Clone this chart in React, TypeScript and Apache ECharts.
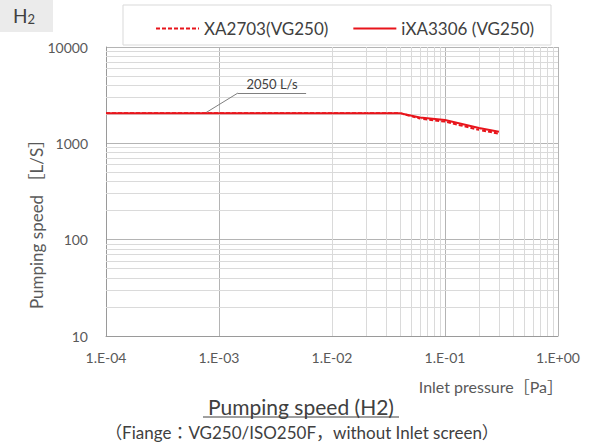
import React, { useEffect, useRef } from "react";
import * as echarts from "echarts";

// ---- data ----
const xTickLabels = ["1.E-04", "1.E-03", "1.E-02", "1.E-01", "1.E+00"];
const yTickLabels = ["10", "100", "1000", "10000"];
const seriesNames = ["XA2703(VG250)", "iXA3306 (VG250)"];
const pressureXA2703 = [1e-4, 0.04, 0.06, 0.1, 0.2, 0.3];
const speedXA2703 = [2050, 2050, 1810, 1680, 1380, 1260];
const pressureIXA3306 = [1e-4, 0.04, 0.06, 0.1, 0.2, 0.3];
const speedIXA3306 = [2050, 2050, 1850, 1745, 1440, 1320];
const minorMultipliers = [2, 3, 4, 5, 6, 7, 8, 9];
const xDecades = [1e-4, 1e-3, 1e-2, 1e-1];
const yDecades = [10, 100, 1000];
const annotationText = "2050 L/s";
const annotationPoints = [
  [7.5e-4, 2050],
  [1.47e-3, 3330],
  [5.9e-3, 3330],
];
const titleText = "Pumping speed (H2)";
const subtitleText = "（Fiange：VG250/ISO250F，without Inlet screen）";
const xAxisName = "Inlet pressure［Pa］";
const yAxisName = "Pumping speed ［L/S］";

const FONT = "Lato, 'Noto Sans CJK JP', sans-serif";
const RED = "#e8141b";

export default function App() {
  const ref = useRef<HTMLDivElement>(null);
  useEffect(() => {
    if (!ref.current) return;
    const chart = echarts.init(ref.current, undefined, { renderer: "svg" });
    const xMinor = xDecades.flatMap((d) => minorMultipliers.map((m) => m * d));
    const yMinor = yDecades.flatMap((d) => minorMultipliers.map((m) => m * d));
    const expIndex = (v: number, base: number) => Math.round(Math.log10(v) - base);

    chart.setOption({
      animation: false,
      textStyle: { fontFamily: FONT },
      grid: { left: 106, top: 47, right: 39, bottom: 110, containLabel: false },
      legend: {
        data: seriesNames,
        left: 150,
        top: 15,
        itemWidth: 43,
        itemHeight: 14,
        itemGap: 24,
        itemStyle: { opacity: 0 },
        textStyle: { fontSize: 17, color: "#404040", fontFamily: FONT },
      },
      xAxis: {
        type: "log",
        logBase: 10,
        min: 1e-4,
        max: 1,
        axisLine: { show: true, lineStyle: { color: "#9a9a9a", width: 1 } },
        axisTick: { show: false },
        splitLine: { show: true, lineStyle: { color: "#b4b4b4", width: 1 } },
        axisLabel: {
          margin: 14,
          fontSize: 14,
          color: "#595959",
          fontFamily: FONT,
          formatter: (v: number) => xTickLabels[expIndex(v, -4)] ?? "",
        },
      },
      yAxis: {
        type: "log",
        logBase: 10,
        min: 10,
        max: 10000,
        axisLine: { show: true, lineStyle: { color: "#9a9a9a", width: 1 } },
        axisTick: { show: false },
        splitLine: { show: true, lineStyle: { color: "#b4b4b4", width: 1 } },
        axisLabel: {
          margin: 18,
          fontSize: 14,
          color: "#595959",
          fontFamily: FONT,
          formatter: (v: number) => yTickLabels[expIndex(v, 1)] ?? "",
        },
      },
      series: [
        {
          type: "line",
          name: "minor-grid",
          z: 1,
          silent: true,
          data: [],
          symbol: "none",
          markLine: {
            silent: true,
            symbol: ["none", "none"],
            label: { show: false },
            lineStyle: { color: "#dadada", type: "solid", width: 1 },
            data: [
              ...xMinor.map((v) => ({ xAxis: v })),
              ...yMinor.map((v) => ({ yAxis: v })),
            ],
          },
        },
        {
          type: "line",
          name: seriesNames[0],
          z: 4,
          symbol: "none",
          lineStyle: { color: RED, width: 2, type: [4, 2] },
          itemStyle: { color: RED },
          data: pressureXA2703.map((p, i) => [p, speedXA2703[i]]),
        },
        {
          type: "line",
          name: seriesNames[1],
          z: 5,
          symbol: "none",
          lineStyle: { color: RED, width: 2, type: "solid" },
          itemStyle: { color: RED },
          data: pressureIXA3306.map((p, i) => [p, speedIXA3306[i]]),
          markLine: {
            silent: true,
            symbol: ["none", "none"],
            lineStyle: { color: "#7f7f7f", type: "solid", width: 1 },
            label: { show: false },
            data: [
              [
                { coord: annotationPoints[0] },
                { coord: annotationPoints[1] },
              ],
              [
                {
                  coord: annotationPoints[1],
                  label: {
                    show: true,
                    position: "middle",
                    formatter: annotationText,
                    fontSize: 13,
                    color: "#404040",
                    fontFamily: FONT,
                    distance: 3,
                  },
                },
                { coord: annotationPoints[2] },
              ],
            ],
          },
        },
      ],
      graphic: [
        {
          type: "rect",
          shape: { x: 0, y: 0, width: 53, height: 32 },
          style: { fill: "#ebebeb" },
          z: 0,
        },
        {
          type: "text",
          x: 13,
          y: 6,
          style: {
            text: "{h|H}{s|2}",
            rich: {
              h: { fontSize: 19, fontFamily: FONT, fill: "#404040", verticalAlign: "bottom" },
              s: { fontSize: 13, fontFamily: FONT, fill: "#404040", verticalAlign: "bottom" },
            },
          },
        },
        {
          type: "rect",
          shape: { x: 123, y: 5, width: 428, height: 40 },
          style: { fill: "none", stroke: "#d9d9d9", lineWidth: 1 },
          z: 0,
        },
        {
          type: "text",
          x: 36,
          y: 220,
          rotation: Math.PI / 2,
          style: {
            text: yAxisName,
            fontSize: 17,
            fontFamily: FONT,
            fill: "#595959",
            align: "center",
            verticalAlign: "middle",
          },
        },
        {
          type: "text",
          x: 563,
          y: 386,
          style: {
            text: xAxisName,
            fontSize: 16,
            fontFamily: FONT,
            fill: "#595959",
            align: "right",
            verticalAlign: "middle",
          },
        },
        {
          type: "text",
          x: 301,
          y: 406,
          style: {
            text: titleText,
            fontSize: 21,
            fontFamily: FONT,
            fill: "#404040",
            align: "center",
            verticalAlign: "middle",
          },
        },
        {
          type: "line",
          shape: { x1: 203, y1: 417, x2: 399, y2: 417 },
          style: { stroke: "#404040", lineWidth: 1 },
        },
        {
          type: "text",
          x: 302,
          y: 432,
          style: {
            text: subtitleText,
            fontSize: 17,
            fontFamily: FONT,
            fill: "#404040",
            align: "center",
            verticalAlign: "middle",
          },
        },
      ],
    });
    return () => chart.dispose();
  }, []);
  return (
    <div
      ref={ref}
      style={{ position: "fixed", left: 0, top: 0, width: 597, height: 446, background: "#fff" }}
    />
  );
}
